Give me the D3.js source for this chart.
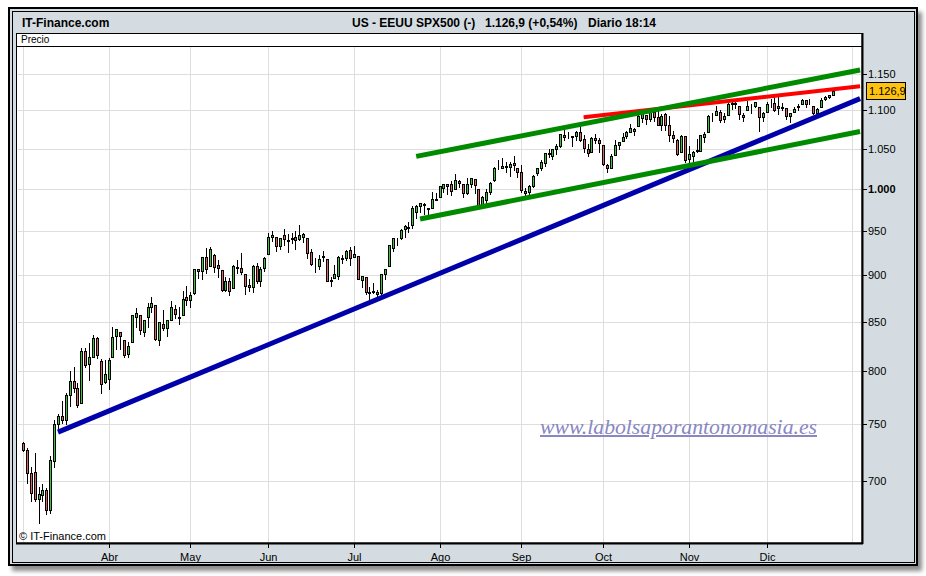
<!DOCTYPE html>
<html>
<head>
<meta charset="utf-8">
<script src="https://cdn.jsdelivr.net/npm/d3@7"></script>
<style>
  body { margin: 0; background: #fff; }
  svg { display: block; font-family: "Liberation Sans", Arial, sans-serif; }
</style>
</head>
<body>
<div id="chart"></div>
<script>
// ---- data: SPX500 daily bars, 2 Mar 2009 - 24 Dec 2009 ----
var dates = [
  // Mar
  "2009-03-02","2009-03-03","2009-03-04","2009-03-05","2009-03-06","2009-03-09","2009-03-10","2009-03-11","2009-03-12","2009-03-13","2009-03-16","2009-03-17","2009-03-18","2009-03-19","2009-03-20","2009-03-23","2009-03-24","2009-03-25","2009-03-26","2009-03-27","2009-03-30","2009-03-31",
  // Apr
  "2009-04-01","2009-04-02","2009-04-03","2009-04-06","2009-04-07","2009-04-08","2009-04-09","2009-04-13","2009-04-14","2009-04-15","2009-04-16","2009-04-17","2009-04-20","2009-04-21","2009-04-22","2009-04-23","2009-04-24","2009-04-27","2009-04-28","2009-04-29","2009-04-30",
  // May
  "2009-05-01","2009-05-04","2009-05-05","2009-05-06","2009-05-07","2009-05-08","2009-05-11","2009-05-12","2009-05-13","2009-05-14","2009-05-15","2009-05-18","2009-05-19","2009-05-20","2009-05-21","2009-05-22","2009-05-26","2009-05-27","2009-05-28","2009-05-29",
  // Jun
  "2009-06-01","2009-06-02","2009-06-03","2009-06-04","2009-06-05","2009-06-08","2009-06-09","2009-06-10","2009-06-11","2009-06-12","2009-06-15","2009-06-16","2009-06-17","2009-06-18","2009-06-19","2009-06-22","2009-06-23","2009-06-24","2009-06-25","2009-06-26","2009-06-29","2009-06-30",
  // Jul
  "2009-07-01","2009-07-02","2009-07-06","2009-07-07","2009-07-08","2009-07-09","2009-07-10","2009-07-13","2009-07-14","2009-07-15","2009-07-16","2009-07-17","2009-07-20","2009-07-21","2009-07-22","2009-07-23","2009-07-24","2009-07-27","2009-07-28","2009-07-29","2009-07-30","2009-07-31",
  // Aug
  "2009-08-03","2009-08-04","2009-08-05","2009-08-06","2009-08-07","2009-08-10","2009-08-11","2009-08-12","2009-08-13","2009-08-14","2009-08-17","2009-08-18","2009-08-19","2009-08-20","2009-08-21","2009-08-24","2009-08-25","2009-08-26","2009-08-27","2009-08-28","2009-08-31",
  // Sep
  "2009-09-01","2009-09-02","2009-09-03","2009-09-04","2009-09-08","2009-09-09","2009-09-10","2009-09-11","2009-09-14","2009-09-15","2009-09-16","2009-09-17","2009-09-18","2009-09-21","2009-09-22","2009-09-23","2009-09-24","2009-09-25","2009-09-28","2009-09-29","2009-09-30",
  // Oct
  "2009-10-01","2009-10-02","2009-10-05","2009-10-06","2009-10-07","2009-10-08","2009-10-09","2009-10-12","2009-10-13","2009-10-14","2009-10-15","2009-10-16","2009-10-19","2009-10-20","2009-10-21","2009-10-22","2009-10-23","2009-10-26","2009-10-27","2009-10-28","2009-10-29","2009-10-30",
  // Nov
  "2009-11-02","2009-11-03","2009-11-04","2009-11-05","2009-11-06","2009-11-09","2009-11-10","2009-11-11","2009-11-12","2009-11-13","2009-11-16","2009-11-17","2009-11-18","2009-11-19","2009-11-20","2009-11-23","2009-11-24","2009-11-25","2009-11-27","2009-11-30",
  // Dec
  "2009-12-01","2009-12-02","2009-12-03","2009-12-04","2009-12-07","2009-12-08","2009-12-09","2009-12-10","2009-12-11","2009-12-14","2009-12-15","2009-12-16","2009-12-17","2009-12-18","2009-12-21","2009-12-22","2009-12-23","2009-12-24"
];

// empty sessions at the right end of the time axis
var futureDays = ["2009-12-28","2009-12-29","2009-12-30","2009-12-31","2010-01-04","2010-01-05","2010-01-06"];

var opens = [
  733,727,707,708,685,688,692,676,717,750,758,754,777,791,784,770,820,807,814,833,810,790,
  793,814,835,839,831,817,829,855,857,839,855,866,868,831,848,844,852,863,854,857,876,
  873,880,906,904,920,910,922,911,905,884,893,886,909,908,901,889,887,910,893,908,
  923,943,943,932,945,938,940,943,940,943,942,925,911,910,920,918,893,897,899,918,919,928,
  920,921,894,898,881,881,881,880,901,910,930,940,942,952,953,956,972,979,981,977,976,986,
  990,1001,1006,1005,999,1009,1006,995,1006,1012,999,980,986,996,1010,1026,1026,1027,1027,1032,1025,
  1020,997,996,1003,1019,1025,1032,1044,1040,1049,1053,1067,1067,1066,1066,1072,1062,1050,1045,1063,1061,
  1054,1029,1026,1042,1054,1060,1066,1072,1075,1079,1090,1094,1088,1098,1091,1080,1095,1081,1068,1061,1045,1066,
  1037,1040,1048,1047,1065,1072,1092,1094,1098,1088,1094,1108,1109,1106,1094,1100,1106,1106,1105,1091,
  1098,1109,1110,1103,1105,1103,1092,1098,1104,1108,1114,1109,1106,1097,1105,1115,1118,1121
];
var highs = [
  734,729,712,724,695,697,694,722,754,760,772,779,800,804,789,823,823,828,836,834,812,811,
  813,845,843,839,831,829,857,864,857,852,870,876,868,850,862,852,872,868,865,883,888,
  881,907,907,920,930,931,923,916,905,898,897,911,916,924,901,896,911,913,909,920,
  947,950,943,942,952,946,947,950,956,947,942,929,919,922,927,918,898,911,921,922,928,931,
  932,921,899,898,887,891,884,901,906,933,942,941,952,956,960,979,980,983,982,977,996,994,
  1003,1006,1006,1009,1018,1011,1006,1013,1013,1012,999,991,999,1008,1027,1035,1038,1033,1033,1040,1025,
  1029,1001,1004,1017,1026,1036,1044,1049,1050,1056,1069,1074,1072,1066,1073,1081,1067,1056,1065,1069,1063,
  1054,1031,1043,1061,1059,1070,1073,1082,1076,1094,1097,1094,1100,1098,1101,1095,1096,1092,1073,1062,1067,1066,
  1053,1047,1062,1067,1072,1094,1097,1106,1101,1097,1114,1111,1112,1106,1097,1113,1109,1112,1105,1098,
  1112,1115,1118,1120,1110,1103,1097,1105,1109,1115,1114,1116,1106,1103,1117,1119,1121,1127.5
];
var lows = [
  726,698,683,683,665,683,672,673,712,745,751,750,767,780,766,770,804,792,814,813,779,789,
  783,814,822,822,814,814,829,845,837,835,845,860,831,826,842,835,852,854,848,857,868,
  866,879,897,896,902,910,903,898,882,882,878,886,902,901,879,883,881,891,888,904,
  923,938,927,929,934,926,936,929,939,937,919,911,903,907,915,893,888,897,896,913,917,911,
  920,896,887,879,869,880,873,875,896,910,927,934,940,943,948,953,965,972,969,968,976,986,
  990,996,993,992,999,1002,990,993,1002,995,978,980,980,993,1009,1024,1026,1021,1016,1023,1014,
  996,991,993,1002,1017,1023,1028,1039,1037,1043,1052,1061,1064,1053,1061,1060,1045,1041,1045,1057,1046,
  1029,1020,1025,1042,1050,1060,1063,1072,1068,1079,1084,1082,1086,1086,1081,1074,1074,1060,1058,1042,1045,1033,
  1029,1033,1045,1047,1059,1072,1086,1094,1085,1085,1094,1102,1103,1088,1086,1100,1097,1104,1073,1086,
  1098,1104,1099,1095,1100,1089,1085,1098,1101,1108,1105,1108,1095,1093,1105,1114,1117,1121
];
var closes = [
  727,707,690,685,689,692,676,718,750,758,754,777,791,784,768,820,806,814,833,816,788,798,
  811,834,843,835,816,825,857,859,842,852,865,870,832,850,844,852,866,858,855,874,873,
  878,907,904,920,907,929,909,908,884,893,883,910,908,903,888,887,910,893,907,919,
  943,945,932,942,940,939,942,939,945,946,924,912,911,918,921,893,895,901,920,919,927,919,
  923,896,899,881,880,883,879,901,906,933,941,940,951,955,954,976,979,982,980,975,987,987,
  1003,1006,1003,997,1010,1007,994,1006,1013,1004,980,990,996,1007,1026,1026,1028,1028,1031,1029,1021,
  998,995,1003,1016,1025,1033,1044,1043,1049,1053,1069,1065,1068,1065,1072,1061,1051,1044,1063,1061,1057,
  1030,1025,1040,1055,1058,1065,1071,1076,1073,1092,1097,1088,1098,1091,1081,1093,1080,1067,1063,1043,1066,1036,
  1043,1045,1047,1067,1069,1093,1093,1099,1087,1093,1109,1110,1110,1095,1091,1106,1106,1111,1091,1096,
  1109,1109,1100,1106,1103,1092,1096,1102,1106,1114,1108,1109,1096,1102,1114,1118,1120.8,1126.9
];

// price axis
var priceTicks = [700, 750, 800, 850, 900, 950, 1000, 1050, 1100, 1150];

// month grid (first session of each month) and labels
var monthStarts = ["2009-03-02","2009-04-01","2009-05-01","2009-06-01","2009-07-01","2009-08-03","2009-09-01","2009-10-01","2009-11-02","2009-12-01","2010-01-04"];
var monthLabels = ["","Abr","May","Jun","Jul","Ago","Sep","Oct","Nov","Dic",""];

// hand drawn trend lines: from (date, price) to (date, price)
var trendFromDate  = ["2009-03-13", "2009-09-24", "2009-07-24", "2009-07-27"];
var trendFromPrice = [743, 1091, 1040, 963.5];
var trendToDate    = ["2010-01-06", "2010-01-06", "2010-01-06", "2010-01-06"];
var trendToPrice   = [1116, 1133, 1155.6, 1072];

// ---- layout ----
var svgWidth = 926, svgHeight = 576;
var plot = { left: 17, right: 862, top: 46, bottom: 543 };
var trendColors = ["#0000aa", "#ff0000", "#008a00", "#008a00"];
var trendWidths = [5, 4, 5, 5];

var es = d3.formatLocale({ decimal: ",", thousands: ".", grouping: [3], currency: ["", " €"] });
var fmtTick = es.format(",d");
var fmtPrice = es.format(",.1f");

var svg = d3.select("#chart")
    .append("svg")
    .attr("width", svgWidth)
    .attr("height", svgHeight);

var defs = svg.append("defs");
var shadow = defs.append("filter")
    .attr("id", "shadow")
    .attr("x", "-5%").attr("y", "-5%")
    .attr("width", "110%").attr("height", "112%");
shadow.append("feDropShadow")
    .attr("dx", 4).attr("dy", 5)
    .attr("stdDeviation", 2.2)
    .attr("flood-color", "#000")
    .attr("flood-opacity", 0.45);

defs.append("clipPath").attr("id", "plotClip")
    .append("rect")
    .attr("x", plot.left + 1)
    .attr("y", plot.top + 1)
    .attr("width", plot.right - plot.left - 2)
    .attr("height", plot.bottom - plot.top - 2);

// frame
svg.append("rect")
    .attr("x", 9).attr("y", 8)
    .attr("width", 908).attr("height", 557)
    .attr("fill", "#d4dce1")
    .attr("stroke", "#000")
    .attr("stroke-width", 2)
    .attr("filter", "url(#shadow)");
svg.append("rect")
    .attr("x", 12.5).attr("y", 11.5)
    .attr("width", 902).attr("height", 551)
    .attr("fill", "none")
    .attr("stroke", "#000");

// header
var header = svg.append("g")
    .attr("font-size", "12px")
    .attr("font-weight", "bold")
    .attr("fill", "#000");
header.append("text").attr("x", 22).attr("y", 26.5).text("IT-Finance.com");
header.append("text").attr("x", 352).attr("y", 26.5).text("US - EEUU SPX500 (-)");
header.append("text").attr("x", 485).attr("y", 26.5).text("1.126,9 (+0,54%)");
header.append("text").attr("x", 588).attr("y", 26.5).text("Diario  18:14");

// white chart area + "Precio" strip
svg.append("rect")
    .attr("x", plot.left - 0.5).attr("y", 33.5)
    .attr("width", plot.right - plot.left + 0.5)
    .attr("height", plot.bottom - 33.5)
    .attr("fill", "#fff")
    .attr("stroke", "#000");
svg.append("line")
    .attr("x1", plot.left).attr("x2", plot.right)
    .attr("y1", plot.top + 0.5).attr("y2", plot.top + 0.5)
    .attr("stroke", "#000");
svg.append("text")
    .attr("x", 21).attr("y", 43)
    .attr("font-size", "10px")
    .text("Precio");

// scales
var allDays = dates.concat(futureDays);
var x = d3.scaleBand()
    .domain(allDays)
    .range([21, plot.right]);
var cx = function (d) { return x(d) + x.bandwidth() / 2; };

var y = d3.scaleLog()
    .domain([649, 1187])
    .range([plot.bottom, plot.top + 2]);

var chartGroup = svg.append("g").attr("clip-path", "url(#plotClip)");

// grid
chartGroup.selectAll(".hgrid")
    .data(priceTicks)
    .enter()
    .append("line")
    .attr("x1", plot.left).attr("x2", plot.right)
    .attr("y1", d => Math.round(y(d)) + 0.5)
    .attr("y2", d => Math.round(y(d)) + 0.5)
    .attr("stroke", "#dedede");

chartGroup.selectAll(".vgrid")
    .data(monthStarts)
    .enter()
    .append("line")
    .attr("x1", d => Math.round(cx(d)) + 0.5)
    .attr("x2", d => Math.round(cx(d)) + 0.5)
    .attr("y1", plot.top).attr("y2", plot.bottom)
    .attr("stroke", "#dedede");

// watermark
chartGroup.append("text")
    .attr("x", 540).attr("y", 434)
    .attr("font-family", "'Liberation Serif', 'DejaVu Serif', serif")
    .attr("font-style", "italic")
    .attr("font-size", "20px")
    .attr("textLength", 277)
    .attr("lengthAdjust", "spacingAndGlyphs")
    .attr("fill", "#8787c2")
    .style("text-decoration", "underline")
    .text("www.labolsaporantonomasia.es");

chartGroup.append("text")
    .attr("x", 19).attr("y", 540)
    .attr("font-size", "11px")
    .text("\u00a9 IT-Finance.com");

// candles
var bars = dates.map(function (d, i) {
    return { date: d, open: opens[i], high: highs[i], low: lows[i], close: closes[i] };
});

var candles = chartGroup.selectAll(".candle")
    .data(bars)
    .enter()
    .append("g")
    .attr("shape-rendering", "crispEdges");

candles.append("line")
    .attr("x1", d => Math.round(cx(d.date)) + 0.5)
    .attr("x2", d => Math.round(cx(d.date)) + 0.5)
    .attr("y1", d => Math.round(y(d.high)))
    .attr("y2", d => Math.round(y(d.low)) + 1)
    .attr("stroke", "#000");

candles.append("rect")
    .attr("x", d => Math.round(cx(d.date)) - 0.5)
    .attr("width", 2)
    .attr("y", d => Math.round(y(Math.max(d.open, d.close))) + 0.5)
    .attr("height", d => Math.max(0, Math.round(y(Math.min(d.open, d.close))) - Math.round(y(Math.max(d.open, d.close)))))
    .attr("fill", d => d.close >= d.open ? "#38c838" : "#d86464")
    .attr("stroke", "#000");

// trend lines
chartGroup.selectAll(".trend")
    .data(trendColors)
    .enter()
    .append("line")
    .attr("x1", (d, i) => cx(trendFromDate[i]))
    .attr("y1", (d, i) => y(trendFromPrice[i]))
    .attr("x2", (d, i) => cx(trendToDate[i]))
    .attr("y2", (d, i) => y(trendToPrice[i]))
    .attr("stroke", d => d)
    .attr("stroke-width", (d, i) => trendWidths[i]);

// bottom axis
svg.append("line")
    .attr("x1", plot.left - 1).attr("x2", plot.right + 1)
    .attr("y1", plot.bottom + 0.5).attr("y2", plot.bottom + 0.5)
    .attr("stroke", "#000").attr("stroke-width", 2);

var monthAxis = svg.selectAll(".mtick")
    .data(monthStarts.filter((d, i) => monthLabels[i] !== ""))
    .enter()
    .append("g")
    .attr("transform", d => `translate(${Math.round(cx(d)) + 0.5}, ${plot.bottom})`);
monthAxis.append("line")
    .attr("y1", 1).attr("y2", 5)
    .attr("stroke", "#000");
monthAxis.append("text")
    .attr("y", 18)
    .attr("text-anchor", "middle")
    .attr("font-size", "11px")
    .text(d => monthLabels[monthStarts.indexOf(d)]);

// right axis
svg.append("line")
    .attr("x1", plot.right + 0.5).attr("x2", plot.right + 0.5)
    .attr("y1", 33).attr("y2", plot.bottom + 1)
    .attr("stroke", "#000").attr("stroke-width", 2);

var priceAxis = svg.selectAll(".ptick")
    .data(priceTicks)
    .enter()
    .append("g")
    .attr("transform", d => `translate(${plot.right}, ${Math.round(y(d)) + 0.5})`);
priceAxis.append("line")
    .attr("x1", 1).attr("x2", 5)
    .attr("stroke", "#000");
priceAxis.append("text")
    .attr("x", 6)
    .attr("dy", "0.35em")
    .attr("font-size", "11px")
    .attr("font-weight", d => d === 1000 ? "bold" : "normal")
    .text(d => fmtTick(d));

// last price box
var last = closes[closes.length - 1];
var lastY = Math.round(y(last));
svg.append("rect")
    .attr("x", plot.right + 4.5).attr("y", lastY - 8.5)
    .attr("width", 39).attr("height", 17)
    .attr("fill", "#ffc20e")
    .attr("stroke", "#000");
svg.append("text")
    .attr("x", plot.right + 7).attr("y", lastY)
    .attr("dy", "0.36em")
    .attr("font-size", "11px")
    .text(fmtPrice(last));
</script>
</body>
</html>
